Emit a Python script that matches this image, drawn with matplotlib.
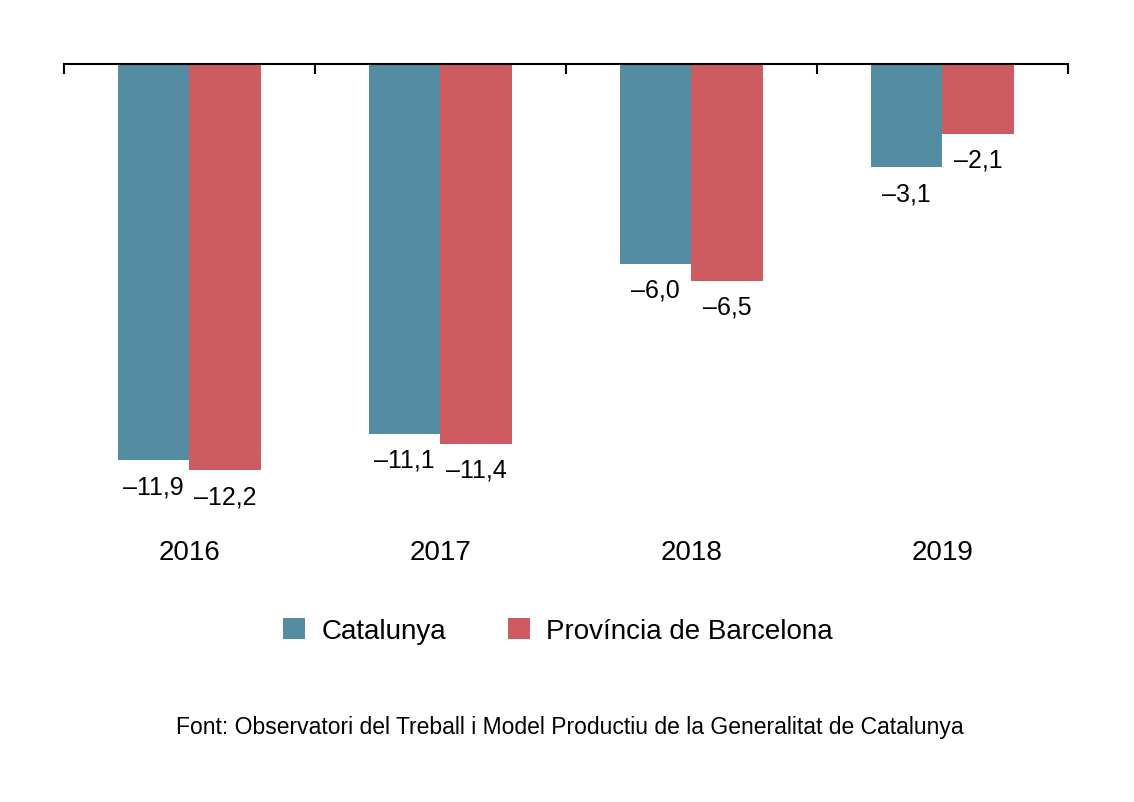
import matplotlib
matplotlib.use("Agg")
import matplotlib.pyplot as plt
import numpy as np

years = ["2016", "2017", "2018", "2019"]
catalunya = [-11.9, -11.1, -6.0, -3.1]
barcelona = [-12.2, -11.4, -6.5, -2.1]
series_names = ["Catalunya", "Província de Barcelona"]
colors = ["#548CA1", "#CD5B61"]
source = "Font: Observatori del Treball i Model Productiu de la Generalitat de Catalunya"

plt.rcParams['font.family'] = ['Liberation Sans', 'DejaVu Sans']
fig = plt.figure(figsize=(11.34, 8.03), dpi=100)
ax = fig.add_axes([0.0564, 0.3773, 0.8854, 0.5417])
x = np.arange(len(years))
w = 0.285
fmt = lambda v: ("–" if v < 0 else "") + f"{abs(v):.1f}".replace(".", ",")
for vals, off, c, name in [(catalunya, -w/2, colors[0], series_names[0]),
                           (barcelona, w/2, colors[1], series_names[1])]:
    ax.bar(x + off, vals, w, color=c, label=name)
    for xi, v in zip(x, vals):
        ax.annotate(fmt(v), (xi + off, v), xytext=(0, -10), textcoords="offset points",
                    ha="center", va="top", fontsize=18)
ax.set_xlim(-0.5, 3.5)
ax.set_ylim(-13.06, 0)
for s in ["left", "right", "bottom"]:
    ax.spines[s].set_visible(False)
ax.spines["top"].set_linewidth(1.5)
ax.set_yticks([])
ax.xaxis.tick_top()
ax.set_xticks(np.arange(-0.5, 4, 1))
ax.tick_params(axis="x", direction="in", length=7, width=1.5, labeltop=False)
for xi, yr in zip(x, years):
    ax.text(xi, 553, yr, transform=ax.get_xaxis_transform() + matplotlib.transforms.ScaledTranslation(0, 0, fig.dpi_scale_trans), alpha=0)
    fig.text((64 + 251 * (xi + 0.5)) / 1134, 1 - 553 / 803, yr, ha="center", va="center", fontsize=20)
fig.legend(loc="center", bbox_to_anchor=(558 / 1134, 1 - 632 / 803), ncol=2, frameon=False,
           fontsize=20, handlelength=0.8, handleheight=0.8, columnspacing=2.2, handletextpad=0.6)
fig.text(570 / 1134, 1 - 728 / 803, source, ha="center", va="center", fontsize=16.5)
fig.savefig("out.png", dpi=100, facecolor="white")
